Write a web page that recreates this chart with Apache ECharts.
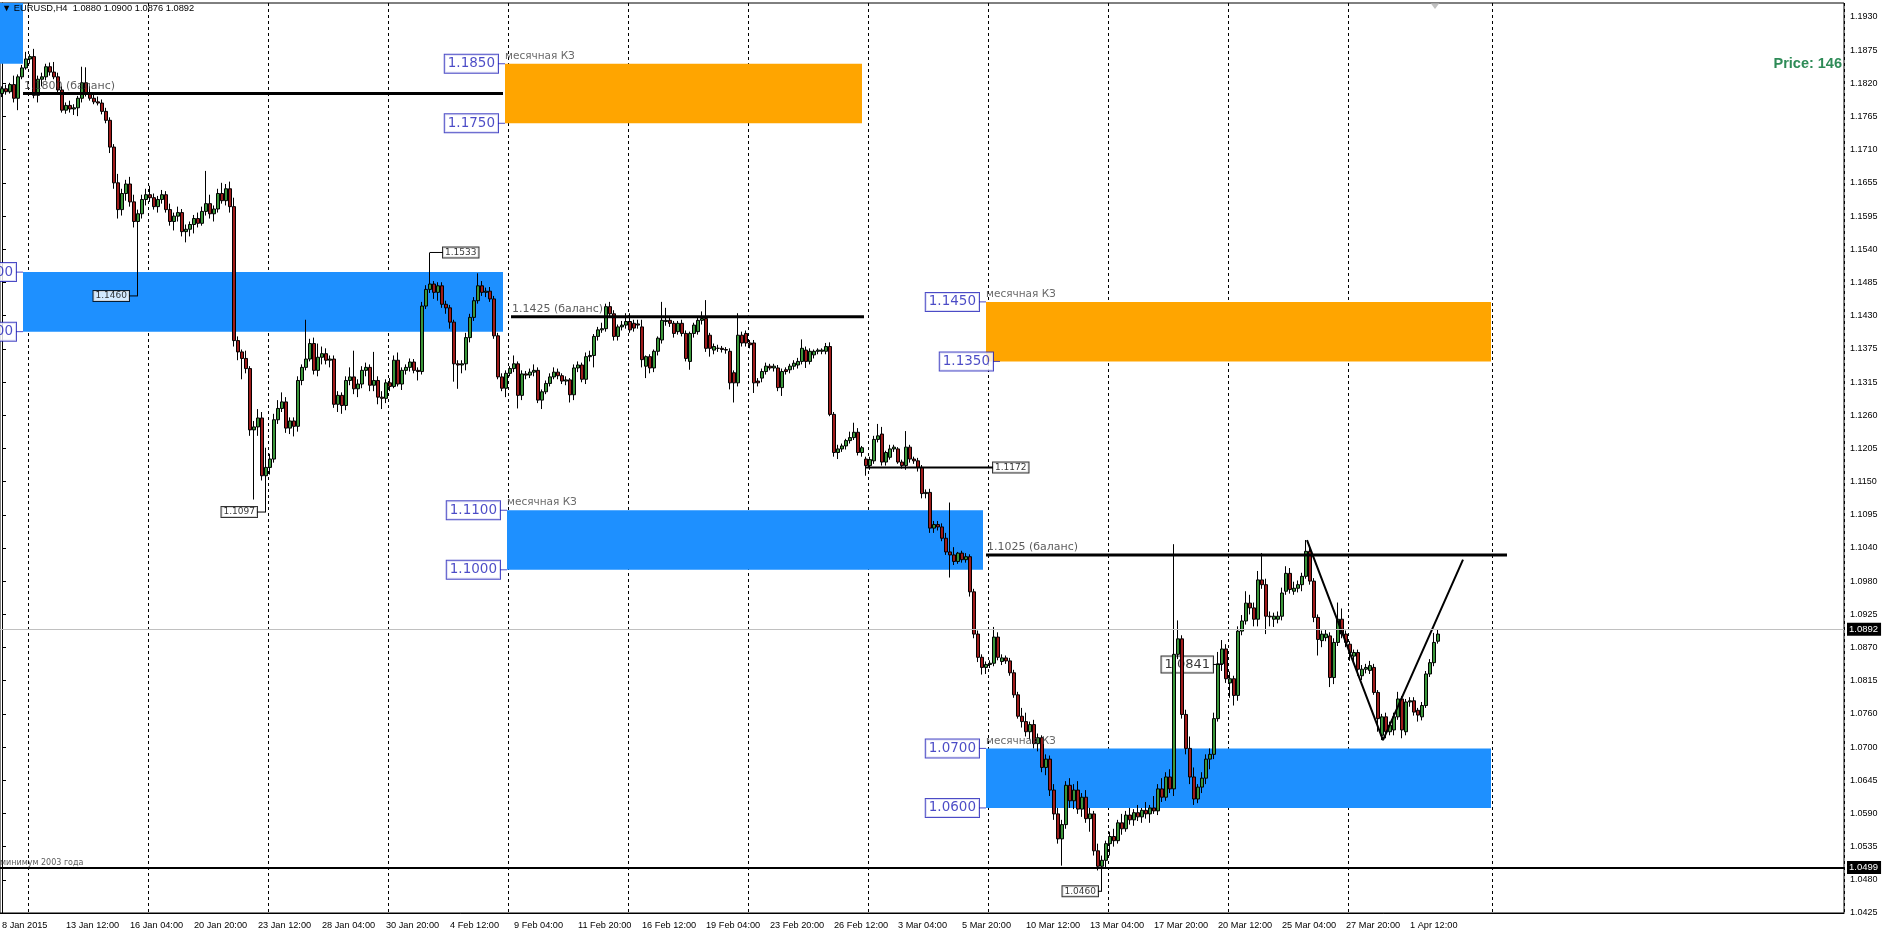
<!DOCTYPE html>
<html><head><meta charset="utf-8">
<script src="https://cdn.jsdelivr.net/npm/echarts/dist/echarts.min.js"></script>
<style>html,body{margin:0;padding:0;background:#fff;}#c{width:1886px;height:937px;}</style>
</head><body><div id="c"></div>
<script>
// ---------- DATA ----------
const xTickLabels = ['8 Jan 2015','13 Jan 12:00','16 Jan 04:00','20 Jan 20:00','23 Jan 12:00','28 Jan 04:00','30 Jan 20:00','4 Feb 12:00','9 Feb 04:00','11 Feb 20:00','16 Feb 12:00','19 Feb 04:00','23 Feb 20:00','26 Feb 12:00','3 Mar 04:00','5 Mar 20:00','10 Mar 12:00','13 Mar 04:00','17 Mar 20:00','20 Mar 12:00','25 Mar 04:00','27 Mar 20:00','1 Apr 12:00'];
const yTickLabels = ['1.0425','1.0480','1.0535','1.0590','1.0645','1.0700','1.0760','1.0815','1.0870','1.0925','1.0980','1.1040','1.1095','1.1150','1.1205','1.1260','1.1315','1.1375','1.1430','1.1485','1.1540','1.1595','1.1655','1.1710','1.1765','1.1820','1.1875','1.1930'];
const gridBars = [7,37,67,97,127,157,187,217,247,277,307,337,373];
// H4 bars: [open, high, low, close] in 1/10000
const bars = [
[11800,11812,11794,11808],[11808,11815,11798,11803],[11803,11818,11800,11815],[11815,11830,11785,11792],[11792,11832,11772,11828],
[11828,11848,11824,11843],[11843,11870,11840,11858],[11858,11866,11850,11862],[11862,11875,11792,11797],[11797,11830,11785,11824],
[11824,11835,11812,11828],[11828,11850,11822,11845],[11845,11852,11830,11836],[11836,11853,11824,11828],[11828,11835,11800,11806],
[11806,11812,11768,11772],[11772,11785,11766,11780],[11780,11788,11768,11774],[11774,11782,11764,11776],[11776,11796,11762,11792],
[11792,11845,11785,11818],[11818,11844,11795,11800],[11800,11812,11788,11792],[11792,11800,11782,11786],[11786,11795,11780,11784],
[11784,11790,11765,11770],[11770,11776,11750,11755],[11755,11760,11700,11710],[11710,11715,11640,11650],[11650,11665,11590,11605],
[11605,11640,11595,11632],[11632,11655,11620,11648],[11648,11660,11610,11618],[11618,11630,11575,11585],[11585,11605,11460,11598],
[11598,11630,11590,11622],[11622,11640,11612,11630],[11630,11645,11618,11625],[11625,11632,11605,11610],[11610,11628,11600,11622],
[11622,11638,11615,11630],[11630,11636,11600,11605],[11605,11615,11578,11585],[11585,11600,11570,11594],[11594,11610,11585,11600],
[11600,11606,11560,11568],[11568,11580,11550,11572],[11572,11585,11560,11580],[11580,11596,11565,11590],[11590,11600,11575,11582],
[11582,11610,11578,11602],[11602,11670,11595,11615],[11615,11630,11590,11598],[11598,11612,11585,11606],[11606,11640,11600,11632],
[11632,11650,11615,11620],[11620,11648,11612,11640],[11640,11652,11600,11610],[11610,11625,11375,11385],[11385,11392,11352,11366],
[11366,11370,11320,11355],[11355,11368,11330,11338],[11338,11342,11225,11235],[11235,11250,11118,11240],[11240,11270,11225,11255],
[11255,11265,11150,11158],[11158,11205,11097,11172],[11172,11195,11160,11186],[11186,11262,11180,11252],[11252,11285,11245,11271],
[11271,11298,11265,11282],[11282,11290,11230,11238],[11238,11256,11228,11250],[11250,11256,11224,11241],[11241,11325,11232,11318],
[11318,11345,11310,11340],[11340,11420,11335,11354],[11354,11388,11350,11380],[11380,11390,11328,11335],[11335,11380,11325,11357],
[11357,11375,11345,11363],[11363,11372,11345,11352],[11352,11360,11340,11354],[11354,11360,11272,11278],[11278,11300,11265,11293],
[11293,11298,11262,11276],[11276,11325,11268,11318],[11318,11340,11310,11324],[11324,11368,11295,11304],[11304,11320,11290,11312],
[11312,11342,11305,11335],[11335,11348,11325,11340],[11340,11345,11300,11310],[11310,11366,11300,11318],[11318,11325,11278,11290],
[11290,11300,11270,11288],[11288,11320,11280,11314],[11314,11322,11300,11308],[11308,11360,11305,11352],[11352,11365,11308,11312],
[11312,11340,11302,11335],[11335,11345,11328,11340],[11340,11355,11333,11349],[11349,11354,11330,11335],[11335,11340,11318,11333],
[11333,11450,11328,11443],[11443,11478,11438,11471],[11471,11533,11465,11480],[11480,11485,11455,11466],[11466,11483,11452,11477],
[11477,11483,11440,11446],[11446,11452,11430,11440],[11440,11445,11405,11416],[11416,11420,11316,11346],[11346,11352,11304,11344],
[11344,11352,11330,11346],[11346,11398,11335,11390],[11390,11430,11382,11424],[11424,11458,11418,11452],[11452,11498,11447,11477],
[11477,11485,11460,11466],[11466,11474,11458,11468],[11468,11475,11450,11455],[11455,11460,11388,11393],[11393,11398,11320,11324],
[11324,11330,11300,11305],[11305,11335,11290,11330],[11330,11342,11325,11338],[11338,11360,11332,11346],[11346,11350,11271,11293],
[11293,11335,11285,11329],[11329,11334,11320,11327],[11327,11338,11322,11332],[11332,11345,11325,11335],[11335,11340,11280,11285],
[11285,11303,11270,11299],[11299,11318,11295,11313],[11313,11330,11308,11324],[11324,11340,11320,11332],[11332,11338,11320,11326],
[11326,11330,11312,11317],[11317,11325,11310,11319],[11319,11322,11281,11294],[11294,11345,11285,11339],[11339,11350,11332,11344],
[11344,11348,11315,11320],[11320,11365,11312,11358],[11358,11368,11350,11360],[11360,11396,11340,11392],[11392,11408,11385,11403],
[11403,11415,11398,11405],[11405,11447,11400,11442],[11442,11450,11425,11430],[11430,11436,11385,11392],[11392,11412,11385,11408],
[11408,11418,11402,11411],[11411,11431,11405,11417],[11417,11431,11398,11403],[11414,11420,11400,11406],[11413,11420,11405,11411],
[11408,11420,11340,11353],[11342,11360,11322,11358],[11358,11362,11330,11339],[11339,11370,11332,11367],[11367,11392,11360,11389],
[11386,11450,11380,11419],[11417,11440,11410,11419],[11419,11425,11408,11414],[11414,11418,11390,11397],[11400,11418,11395,11414],
[11414,11420,11392,11397],[11397,11402,11350,11355],[11350,11400,11336,11397],[11397,11415,11390,11411],[11400,11424,11395,11419],
[11419,11434,11412,11422],[11422,11453,11366,11372],[11394,11398,11358,11372],[11369,11380,11362,11375],[11372,11378,11366,11372],
[11372,11376,11365,11370],[11370,11374,11363,11369],[11367,11372,11303,11314],[11331,11335,11281,11314],[11314,11431,11308,11394],
[11394,11400,11375,11381],[11397,11402,11375,11381],[11381,11386,11372,11378],[11381,11386,11297,11314],[11317,11322,11308,11314],
[11322,11338,11315,11333],[11333,11348,11328,11342],[11342,11346,11335,11339],[11339,11346,11333,11342],[11339,11344,11300,11306],
[11306,11338,11292,11333],[11336,11340,11328,11333],[11336,11346,11330,11342],[11342,11352,11336,11347],[11344,11356,11338,11350],
[11350,11387,11345,11372],[11369,11375,11339,11350],[11350,11372,11345,11367],[11361,11370,11355,11367],[11367,11372,11362,11369],
[11367,11372,11362,11369],[11367,11381,11362,11375],[11375,11382,11258,11261],[11261,11265,11190,11197],[11197,11210,11186,11203],
[11203,11212,11198,11208],[11208,11220,11202,11217],[11217,11232,11212,11222],[11222,11247,11218,11231],[11231,11238,11192,11197],
[11197,11208,11190,11205],[11186,11190,11158,11175],[11175,11190,11168,11185],[11183,11225,11178,11219],[11219,11245,11214,11225],
[11228,11240,11175,11181],[11181,11200,11175,11197],[11189,11210,11185,11203],[11203,11210,11198,11206],[11203,11206,11178,11181],
[11181,11185,11170,11175],[11175,11233,11168,11206],[11206,11210,11180,11186],[11186,11190,11178,11183],[11183,11188,11165,11172],
[11172,11176,11120,11128],[11128,11135,11120,11130],[11130,11136,11062,11070],[11070,11082,11062,11076],[11076,11082,11066,11072],
[11072,11078,11048,11053],[11053,11062,11025,11030],[11030,11113,10987,11025],[11025,11038,11008,11014],[11014,11030,11010,11028],
[11028,11032,11012,11017],[11017,11028,11012,11022],[11022,11026,10955,10963],[10963,10968,10885,10892],[10892,10898,10845,10853],
[10853,10858,10824,10836],[10836,10846,10825,10841],[10841,10848,10835,10843],[10843,10904,10838,10887],[10887,10895,10848,10853],
[10846,10858,10840,10852],[10852,10856,10842,10847],[10847,10852,10822,10827],[10827,10832,10785,10790],[10790,10795,10750,10754],
[10754,10768,10735,10745],[10745,10760,10720,10728],[10728,10745,10715,10740],[10740,10748,10700,10708],[10708,10725,10695,10718],
[10718,10722,10660,10668],[10668,10690,10655,10682],[10682,10688,10620,10630],[10630,10640,10580,10590],[10590,10600,10540,10548],
[10548,10580,10503,10572],[10572,10645,10565,10638],[10638,10650,10600,10612],[10612,10640,10598,10630],[10630,10645,10590,10598],
[10598,10625,10585,10618],[10618,10630,10575,10582],[10582,10600,10560,10590],[10590,10595,10520,10528],[10528,10540,10495,10502],
[10502,10520,10460,10512],[10512,10545,10500,10540],[10540,10560,10520,10552],[10552,10565,10535,10545],[10545,10580,10540,10575],
[10575,10590,10555,10565],[10565,10595,10560,10588],[10588,10600,10572,10580],[10580,10598,10570,10592],[10592,10605,10578,10585],
[10585,10600,10575,10596],[10596,10610,10582,10590],[10590,10605,10575,10600],[10600,10620,10590,10595],[10595,10640,10588,10632],
[10632,10650,10610,10618],[10618,10660,10612,10652],[10652,10665,10625,10632],[10632,11043,10620,10858],[10858,10915,10850,10884],
[10884,10890,10750,10757],[10757,10765,10690,10700],[10700,10720,10640,10652],[10652,10668,10605,10615],[10615,10640,10608,10635],
[10635,10660,10625,10650],[10650,10690,10640,10682],[10682,10700,10665,10690],[10690,10760,10682,10750],[10750,10862,10745,10842],
[10842,10882,10830,10867],[10867,10875,10810,10817],[10810,10829,10785,10817],[10817,10822,10772,10789],[10789,10905,10780,10897],
[10897,10924,10890,10914],[10914,10964,10908,10944],[10944,10958,10925,10936],[10936,10945,10905,10917],[10917,10998,10905,10983],
[10983,11028,10968,10975],[10975,10985,10892,10922],[10922,10930,10905,10921],[10917,10928,10904,10922],[10917,10930,10910,10922],
[10922,10970,10915,10961],[10964,11006,10958,10994],[10994,11003,10960,10967],[10964,10980,10958,10969],[10969,10982,10962,10975],
[10975,10995,10964,10989],[10989,11050,10985,11031],[11031,11040,10975,10981],[10981,10986,10912,10920],[10920,10925,10856,10883],
[10881,10898,10870,10892],[10886,10900,10880,10892],[10889,10895,10803,10819],[10819,10885,10808,10878],[10878,10945,10872,10917],
[10917,10935,10885,10892],[10892,10898,10870,10878],[10875,10880,10847,10861],[10855,10866,10845,10861],[10861,10866,10822,10833],
[10822,10840,10815,10833],[10833,10842,10826,10836],[10831,10847,10825,10839],[10836,10842,10790,10794],[10794,10798,10728,10750],
[10722,10758,10714,10753],[10753,10760,10717,10728],[10728,10745,10722,10739],[10731,10760,10722,10753],[10753,10795,10748,10783],
[10783,10788,10717,10731],[10728,10783,10722,10778],[10778,10786,10770,10780],[10780,10786,10755,10761],[10764,10768,10745,10756],
[10753,10778,10747,10772],[10772,10830,10768,10825],[10825,10850,10820,10844],[10844,10894,10838,10878],[10880,10900,10876,10892]
];
// price zones [x from bar, x to bar, top price, bottom price]
const blueZones = [[-0.5,5.25,1.1952,1.1850],[5.25,125.25,1.1500,1.1400],[126.25,245.25,1.1100,1.1000],[246,372.25,1.0700,1.0600]];
const orangeZones = [[125.75,215,1.1850,1.1750],[246,372.25,1.1450,1.1350]];
const balanceLevels = [[5.25,125.25,1.1800,'1.1800 (баланс)'],[127.25,215.5,1.1425,'1.1425 (баланс)'],[246,376.25,1.1025,'1.1025 (баланс)']];
const level1172 = [[216,1.1172],[247.75,1.1172]];
const trendPoints = [[326.25,1.1050],[345.25,1.0714],[365.25,1.1017]];
const zoneTags = [[125.75,1.1850,'1.1850'],[125.75,1.1750,'1.1750'],[126.25,1.1100,'1.1100'],[126.25,1.1000,'1.1000'],[246,1.1450,'1.1450'],[249.5,1.1350,'1.1350'],[246,1.0700,'1.0700'],[246,1.0600,'1.0600'],[5.25,1.1500,'1.1500'],[5.25,1.1400,'1.1400']];
const zoneCaptions = [[125.75,1.1850],[126.25,1.1100],[246,1.1450],[246,1.0700]];
const leftCallouts = [[31.75,1.1460,'1.1460'],[63.75,1.1097,'1.1097'],[274,1.0460,'1.0460']];
const rightCallouts = [[110.25,1.1533,'1.1533'],[247.75,1.1172,'1.1172']];
const bigCallout = [[302.75,1.0841,'1.0841']];
const connectors = [[31.75,34,1.1460],[63.75,66,1.1097],[274,275,1.0460],[107,110.25,1.1533],[302.75,305.25,1.0841]];
const minimum2003 = 1.0499, bidPrice = 1.0892;

// ---------- CHART ----------
const N = 461;
const cats = Array.from({length: N}, (_, i) => String(i));
const candleData = bars.map(b => [b[0]/1e4, b[3]/1e4, b[2]/1e4, b[1]/1e4]);
const yStep = 0.1505/27;
const yMin = 187*yStep;
const yMax = yMin + 910/5953.5;
const gridSet = new Set(gridBars);
const BLUE = '#1E90FF', ORANGE = '#FFA500', TAG = '#1E1EB8';
const FONT = 'DejaVu Sans';

function segSeries(pts, width, z) {
  return {type:'line', xAxisIndex:1, yAxisIndex:0, data:pts, symbol:'none', silent:true, z:z,
    lineStyle:{color:'#000', width:width}, animation:false};
}
const series = [];
series.push({type:'line', xAxisIndex:1, data:[], silent:true, z:1,
  markArea:{silent:true, data:
    blueZones.map(z => [{xAxis:z[0], yAxis:z[2], itemStyle:{color:BLUE, opacity:1}}, {xAxis:z[1], yAxis:z[3]}])
    .concat(orangeZones.map(z => [{xAxis:z[0], yAxis:z[2], itemStyle:{color:ORANGE, opacity:1}}, {xAxis:z[1], yAxis:z[3]}]))
  }});
// big callout under candles
series.push({type:'scatter', xAxisIndex:1, data:bigCallout.map(d=>[d[0],d[1],d[2]]), symbolSize:0, silent:true, z:2,
  label:{show:true, position:'left', distance:0, formatter:p=>p.data[2], fontFamily:FONT, fontSize:13, color:'#000',
    backgroundColor:'#fff', borderColor:'#000', borderWidth:1, padding:[2,3,1,3]}});
series.push({type:'candlestick', xAxisIndex:0, yAxisIndex:0, data:candleData, barWidth:3, z:3,
  itemStyle:{color:'#3A963A', color0:'#9E1B1B', borderColor:'#000', borderColor0:'#000', borderWidth:1},
  markLine:{silent:true, symbol:['none','none'], animation:false, data:[
    {yAxis:minimum2003, lineStyle:{color:'#000', width:2, type:'solid'},
      label:{position:'end', distance:3, formatter:'1.0499', color:'#fff', backgroundColor:'#000', fontFamily:'Liberation Sans', fontSize:9.5, padding:[2,3,1,2]}},
    {yAxis:bidPrice, lineStyle:{color:'#C0C0C0', width:1, type:'solid'},
      label:{position:'end', distance:3, formatter:'1.0892', color:'#fff', backgroundColor:'#000', fontFamily:'Liberation Sans', fontSize:9.5, padding:[2,3,1,2]}}
  ]}});
balanceLevels.forEach(l => series.push(segSeries([[l[0],l[2]],[l[1],l[2]]], 3, 4)));
series.push(segSeries(level1172, 2, 4));
series.push(segSeries(trendPoints, 2, 4));
connectors.forEach(c => series.push(segSeries([[c[0],c[2]],[c[1],c[2]]], 1, 4)));
// balance captions
series.push({type:'scatter', xAxisIndex:1, data:balanceLevels.map(l=>[l[0]+0.25,l[2],l[3]]), symbolSize:0, silent:true, z:5,
  label:{show:true, position:'top', align:'left', distance:2, formatter:p=>p.data[2], fontFamily:FONT, fontSize:11, color:'#333'}});
// zone captions
series.push({type:'scatter', xAxisIndex:1, data:zoneCaptions.map(c=>[c[0],c[1],'месячная КЗ']), symbolSize:0, silent:true, z:5,
  label:{show:true, position:'top', align:'left', distance:2, formatter:p=>p.data[2], fontFamily:FONT, fontSize:10.5, color:'#444'}});
// minimum 2003 caption
series.push({type:'scatter', xAxisIndex:1, data:[[-0.5,minimum2003,'минимум 2003 года']], symbolSize:0, silent:true, z:5,
  label:{show:true, position:'top', align:'left', distance:1, formatter:p=>p.data[2], fontFamily:FONT, fontSize:8, color:'#333'}});
// zone price tags
series.push({type:'scatter', xAxisIndex:1, data:zoneTags.map(d=>[d[0],d[1],d[2]]), symbol:'rect', symbolSize:[7,1], symbolOffset:[-3.5,0],
  itemStyle:{color:TAG}, silent:true, z:6,
  label:{show:true, position:'left', distance:0, formatter:p=>p.data[2], fontFamily:FONT, fontSize:13.5, color:TAG,
    backgroundColor:'#fff', borderColor:TAG, borderWidth:1, padding:[2,3,2,3]}});
// small callouts
series.push({type:'scatter', xAxisIndex:1, data:leftCallouts.map(d=>[d[0],d[1],d[2]]), symbolSize:0, silent:true, z:6,
  label:{show:true, position:'left', distance:0, formatter:p=>p.data[2], fontFamily:FONT, fontSize:9, color:'#000',
    backgroundColor:'#fff', borderColor:'#000', borderWidth:1, padding:[1,2,0,2]}});
series.push({type:'scatter', xAxisIndex:1, data:rightCallouts.map(d=>[d[0],d[1],d[2]]), symbolSize:0, silent:true, z:6,
  label:{show:true, position:'right', distance:0, formatter:p=>p.data[2], fontFamily:FONT, fontSize:9, color:'#000',
    backgroundColor:'#fff', borderColor:'#000', borderWidth:1, padding:[1,2,0,2]}});
// shift marker
series.push({type:'scatter', xAxisIndex:1, data:[[358.25,1.1947]], symbol:'triangle', symbolRotate:180, symbolSize:[9,6], silent:true, z:6,
  itemStyle:{color:'#B0B0B0'}});

const chart = echarts.init(document.getElementById('c'), null, {renderer:'canvas'});
chart.setOption({
  animation:false,
  backgroundColor:'#fff',
  title:[
    {text:'▼ EURUSD,H4  1.0880 1.0900 1.0876 1.0892', left:2, top:4, padding:0,
      textStyle:{fontFamily:'Liberation Sans', fontSize:9.3, fontWeight:'normal', color:'#000'}},
    {text:'Price: 146', right:44, top:56, padding:0,
      textStyle:{fontFamily:'Liberation Sans', fontSize:14.5, fontWeight:'bold', color:'#2E8B57'}}
  ],
  grid:{left:0, right:42, top:3, bottom:24, containLabel:false, outerBoundsMode:'none', show:true, borderColor:'#000', borderWidth:1},
  xAxis:[
    {type:'category', data:cats, boundaryGap:true, gridIndex:0,
      axisLine:{show:true, lineStyle:{color:'#000'}}, axisTick:{show:false},
      axisLabel:{show:true, interval:(i)=> i % 16 === 0 && i/16 < xTickLabels.length, align:'left', margin:8,
        formatter:(v)=> xTickLabels[Number(v)/16] || '', fontFamily:'Liberation Sans', fontSize:9.2, color:'#000'},
      splitLine:{show:true, interval:(i)=> gridSet.has(i), lineStyle:{color:'#000', width:1, type:[3,3]}}},
    {type:'value', min:-0.5, max:N-0.5, show:false, gridIndex:0}
  ],
  yAxis:{type:'value', position:'right', min:yMin, max:yMax, interval:yStep, scale:true,
    axisLine:{show:true, lineStyle:{color:'#000'}}, axisTick:{show:true, length:4, lineStyle:{color:'#000'}},
    splitLine:{show:false},
    axisLabel:{margin:6, fontFamily:'Liberation Sans', fontSize:9, color:'#000',
      formatter:(v)=>{ const k=(v-yMin)/yStep, r=Math.round(k); return (Math.abs(k-r)<0.1 && yTickLabels[r]) ? yTickLabels[r] : ''; }}},
  series:series
});
</script>
</body></html>
